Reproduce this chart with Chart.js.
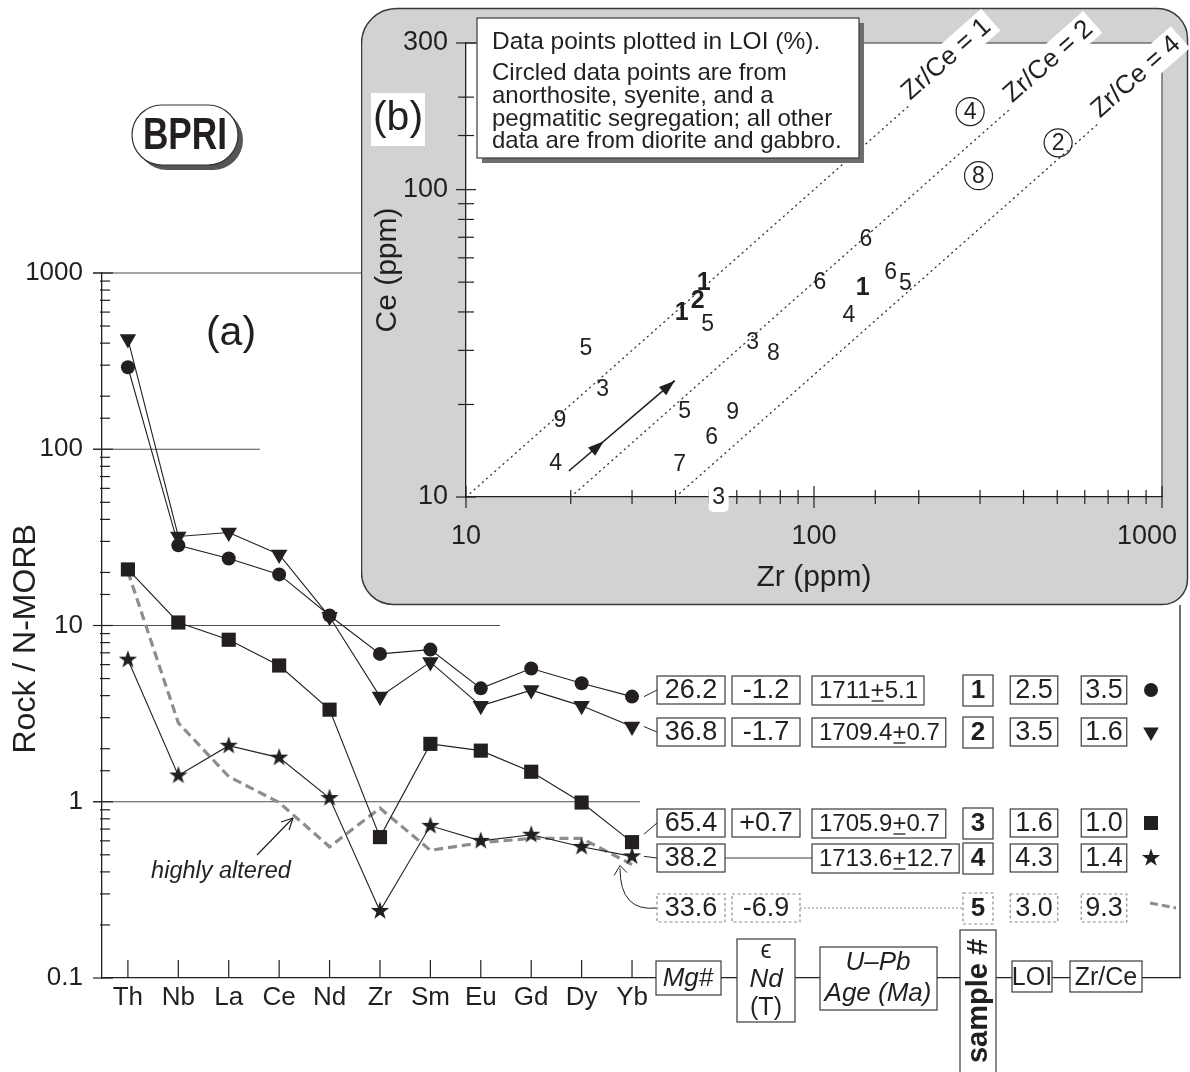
<!DOCTYPE html>
<html>
<head>
<meta charset="utf-8">
<script src="https://cdn.jsdelivr.net/npm/chart.js@4.4.1/dist/chart.umd.min.js"></script>
<style>
  html, body { margin: 0; padding: 0; background: #fff; }
  #wrap { position: relative; width: 1190px; height: 1072px; overflow: hidden; }
  #mainChart { position: absolute; left: 0; top: 0; }
  #insetChart { position: absolute; left: 361px; top: 0; }
</style>
</head>
<body>
<div id="wrap">
  <canvas id="mainChart" width="1190" height="1072" style="width:1190px;height:1072px"></canvas>
  <canvas id="insetChart" width="829" height="610" style="width:829px;height:610px"></canvas>
</div>
<script>
// ---- (a) N-MORB normalised spider diagram ----
const elements = ['Th', 'Nb', 'La', 'Ce', 'Nd', 'Zr', 'Sm', 'Eu', 'Gd', 'Dy', 'Yb'];
const sample1 = [292, 28.5, 24, 19.5, 11.4, 6.9, 7.3, 4.4, 5.7, 4.7, 3.95];
const sample2 = [422, 32, 33.7, 25.3, 11.2, 3.95, 6.2, 3.5, 4.3, 3.5, 2.67];
const sample3 = [20.8, 10.4, 8.3, 5.93, 3.33, 0.63, 2.13, 1.95, 1.48, 0.99, 0.59];
const sample4 = [6.4, 1.41, 2.08, 1.78, 1.05, 0.24, 0.73, 0.60, 0.65, 0.555, 0.49];
const sample5 = [20.2, 2.8, 1.39, 0.99, 0.555, 0.92, 0.53, 0.585, 0.62, 0.62, 0.44];

// table beside the spider diagram
const sampleIds = [1, 2, 3, 4, 5];
const mgNumber = [26.2, 36.8, 65.4, 38.2, 33.6];
const epsNd = [-1.2, -1.7, 0.7, null, -6.9];
const ageMa = ['1711', '1709.4', '1705.9', '1713.6', null];
const ageErr = ['5.1', '0.7', '0.7', '12.7', null];
const loi = [2.5, 3.5, 1.6, 4.3, 3.0];
const zrCe = [3.5, 1.6, 1.0, 1.4, 9.3];

// ---- (b) Ce vs Zr inset, points labelled by LOI (%) ----
const insetLoi = [5, 3, 9, 4, 1, 2, 1, 5, 3, 8, 5, 9, 6, 7, 3, 6, 6, 1, 6, 5, 4, 4, 8, 2];
const insetZr = [22.1, 24.7, 18.6, 18.1, 41.7, 46.3, 48.2, 49.5, 66.6, 76.5, 42.5, 58.4, 50.8, 41.1, 53.2, 104, 141, 138, 166, 183, 126, 281, 297, 503];
const insetCe = [30.6, 22.6, 17.9, 12.9, 40.1, 43.8, 50.2, 36.6, 32.0, 29.4, 19.1, 18.9, 15.7, 12.8, 10, 50.2, 69.2, 48.3, 54.1, 49.8, 39.2, 179.5, 111, 142];
const insetGroup = ['dg', 'dg', 'dg', 'dg', 'dated', 'dated', 'dated', 'dg', 'dg', 'dg', 'dg', 'dg', 'dg', 'dg', 'dg', 'dg', 'dg', 'dated', 'dg', 'dg', 'dg', 'felsic', 'felsic', 'felsic'];
const zrCeRatios = [1, 2, 4];
const arrowZr = [19.75, 39.8];
const arrowCe = [12.15, 23.9];

const FONT = "'Liberation Sans', Arial, Helvetica, sans-serif";
const INK = '#231f20';
const GREY = '#8d8d8d';
Chart.defaults.font.family = FONT;
Chart.defaults.color = INK;

function line(ctx, x1, y1, x2, y2) {
  ctx.beginPath(); ctx.moveTo(x1, y1); ctx.lineTo(x2, y2); ctx.stroke();
}
function drawStar(g, cx, cy, ro, ri) {
  g.beginPath();
  for (let i = 0; i < 10; i++) {
    const r = i % 2 ? ri : ro;
    const a = -Math.PI / 2 + i * Math.PI / 5;
    g.lineTo(cx + r * Math.cos(a), cy + r * Math.sin(a));
  }
  g.closePath(); g.fill();
}
function starCanvas(size) {
  const c = document.createElement('canvas');
  c.width = c.height = size;
  const g = c.getContext('2d');
  g.fillStyle = INK;
  drawStar(g, size / 2, size / 2, size * 0.48, size * 0.19);
  return c;
}
function drawMarker(ctx, kind, x, y) {
  ctx.save();
  ctx.fillStyle = INK;
  if (kind === 'circle') { ctx.beginPath(); ctx.arc(x, y, 7, 0, Math.PI * 2); ctx.fill(); }
  if (kind === 'tri') { ctx.beginPath(); ctx.moveTo(x, y + 9); ctx.lineTo(x - 7.8, y - 4.5); ctx.lineTo(x + 7.8, y - 4.5); ctx.closePath(); ctx.fill(); }
  if (kind === 'square') ctx.fillRect(x - 7, y - 7, 14, 14);
  if (kind === 'star') drawStar(ctx, x, y, 9.6, 3.8);
  if (kind === 'dash') {
    ctx.strokeStyle = GREY; ctx.lineWidth = 3; ctx.setLineDash([8, 4]);
    line(ctx, x - 1, y - 5, x + 25, y);
  }
  ctx.restore();
}
function box(ctx, x1, y1, x2, y2, color, dash) {
  ctx.save();
  ctx.fillStyle = '#fff';
  ctx.fillRect(x1, y1, x2 - x1, y2 - y1);
  ctx.strokeStyle = color || '#3a3a3a';
  ctx.lineWidth = 1.2;
  if (dash) ctx.setLineDash(dash);
  ctx.strokeRect(x1, y1, x2 - x1, y2 - y1);
  ctx.restore();
}
function textAt(ctx, text, x, y, font, align) {
  ctx.font = font;
  ctx.fillStyle = INK;
  ctx.textAlign = align || 'center';
  ctx.textBaseline = 'middle';
  ctx.fillText(text, x, y);
}
function isDecade(v) {
  const l = Math.log10(v);
  return Math.abs(l - Math.round(l)) < 1e-6;
}
function signed(v) { return (v > 0 ? '+' : '') + v.toFixed(1); }

// ---- main chart decorations ----
const ROW_Y = [690, 732, 823, 858, 908];
const GRID_RIGHT = [[1000, 361], [100, 260], [10, 500], [1, 640]];
const ROW_MARKERS = ['circle', 'tri', 'square', 'star', 'dash'];

const spiderDecor = {
  id: 'spiderDecor',
  beforeDatasetsDraw(chart) {
    const { ctx, chartArea: a, scales: { x, y } } = chart;
    ctx.save();
    ctx.strokeStyle = '#4d4d4f';
    ctx.lineWidth = 1.2;
    GRID_RIGHT.forEach(([v, xr]) => { const py = y.getPixelForValue(v); line(ctx, 93, py, xr, py); });
    ctx.strokeStyle = INK;
    y.ticks.forEach(t => {
      const py = y.getPixelForValue(t.value);
      if (isDecade(t.value)) line(ctx, 93, py, 113, py); else line(ctx, 100, py, 110, py);
    });
    elements.forEach((_, i) => { const px = x.getPixelForValue(i); line(ctx, px, a.bottom, px, a.bottom - 18); });
    // frame line up to the inset
    ctx.lineWidth = 1.3;
    line(ctx, a.right, a.bottom, a.right, 605);
    ctx.restore();
  },
  afterDraw(chart) {
    const { ctx, scales: { x, y } } = chart;
    ctx.save();
    textAt(ctx, '(a)', 231, 334, '41px ' + FONT);

    // BPRI badge
    ctx.fillStyle = '#555';
    ctx.beginPath(); ctx.roundRect(137, 110, 106, 60, 30); ctx.fill();
    ctx.fillStyle = '#fff'; ctx.strokeStyle = '#333'; ctx.lineWidth = 1.2;
    ctx.beginPath(); ctx.roundRect(132, 105, 106, 60, 30); ctx.fill(); ctx.stroke();
    ctx.save();
    ctx.translate(185, 137); ctx.scale(0.8, 1);
    textAt(ctx, 'BPRI', 0, 0, 'bold 44px ' + FONT);
    ctx.restore();

    // highly altered note
    textAt(ctx, 'highly altered', 221, 871, 'italic 23.5px ' + FONT);
    ctx.strokeStyle = INK; ctx.lineWidth = 1.2;
    line(ctx, 257, 855, 293, 818);
    line(ctx, 293, 818, 281, 822); line(ctx, 293, 818, 289, 830);

    // connectors from the Yb points to the table rows
    const ybX = x.getPixelForValue(elements.length - 1);
    [sample1, sample2, sample3, sample4].forEach((s, r) => {
      const py = y.getPixelForValue(s[s.length - 1]);
      const dy = r === 2 ? -8 : 0;
      ctx.strokeStyle = INK; ctx.lineWidth = 1;
      line(ctx, ybX + 12, py + dy, 657, ROW_Y[r]);
    });
    const p5 = y.getPixelForValue(sample5[sample5.length - 1]);
    const tip = { x: ybX - 12, y: p5 + 1 };
    ctx.beginPath(); ctx.moveTo(657, ROW_Y[4]);
    ctx.quadraticCurveTo(tip.x, ROW_Y[4] + 4, tip.x, tip.y + 3); ctx.stroke();
    line(ctx, tip.x, tip.y, tip.x - 6, tip.y + 10); line(ctx, tip.x, tip.y, tip.x + 7, tip.y + 7);

    // table rows
    ROW_Y.forEach((cy, r) => {
      const dashed = r === 4;
      const bc = dashed ? GREY : '#3a3a3a';
      const dash = dashed ? [3, 2.5] : null;
      const f = '27px ' + FONT;
      box(ctx, 657, cy - 14, 725, cy + 14, bc, dash);
      textAt(ctx, mgNumber[r].toFixed(1), 691, cy + 1, f);
      if (epsNd[r] !== null) {
        box(ctx, 732, cy - 14, 800, cy + 14, bc, dash);
        textAt(ctx, signed(epsNd[r]), 766, cy + 1, f);
      }
      if (ageMa[r] !== null) {
        const af = '24px ' + FONT;
        ctx.font = af;
        const w1 = ctx.measureText(ageMa[r]).width, wp = ctx.measureText('+').width, w2 = ctx.measureText(ageErr[r]).width;
        const x0 = 812, tx = x0 + 7;
        box(ctx, x0, cy - 14, tx + w1 + wp + w2 + 6, cy + 15, bc, dash);
        textAt(ctx, ageMa[r], tx, cy + 1, af, 'left');
        textAt(ctx, '+', tx + w1, cy + 1, af, 'left');
        textAt(ctx, ageErr[r], tx + w1 + wp, cy + 1, af, 'left');
        ctx.strokeStyle = INK; ctx.lineWidth = 1.3;
        line(ctx, tx + w1 + 1, cy + 11, tx + w1 + wp - 1, cy + 11);
      }
      if (r === 3) { ctx.strokeStyle = '#3a3a3a'; ctx.lineWidth = 1; line(ctx, 725, cy, 812, cy); }
      if (r === 4) {
        ctx.save(); ctx.strokeStyle = GREY; ctx.lineWidth = 1; ctx.setLineDash([2, 2]);
        line(ctx, 800, cy, 963, cy); ctx.restore();
      }
      box(ctx, 963, cy - 15, 993, cy + 16, bc, dash);
      textAt(ctx, String(sampleIds[r]), 978, cy + 1, 'bold 26px ' + FONT);
      ctx.font = f;
      const wl = ctx.measureText(loi[r].toFixed(1)).width;
      box(ctx, 1034 - wl / 2 - 5, cy - 14, 1034 + wl / 2 + 5, cy + 14, bc, dash);
      textAt(ctx, loi[r].toFixed(1), 1034, cy + 1, f);
      const wz = ctx.measureText(zrCe[r].toFixed(1)).width;
      box(ctx, 1104 - wz / 2 - 4, cy - 14, 1104 + wz / 2 + 4, cy + 14, bc, dash);
      textAt(ctx, zrCe[r].toFixed(1), 1104, cy + 1, f);
      drawMarker(ctx, ROW_MARKERS[r], 1151, cy);
    });

    // column headers on the axis line
    const hf = '25px ' + FONT, hi = 'italic 26px ' + FONT;
    box(ctx, 656, 961, 721, 995); textAt(ctx, 'Mg#', 688, 979, hi);
    box(ctx, 737, 939, 795, 1022);
    textAt(ctx, '\u03F5', 766, 951, '25px ' + FONT); textAt(ctx, 'Nd', 766, 980, hi); textAt(ctx, '(T)', 766, 1008, hf);
    box(ctx, 820, 947, 937, 1010);
    textAt(ctx, 'U\u2013Pb', 878, 963, hi); textAt(ctx, 'Age (Ma)', 878, 994, hi);
    box(ctx, 960, 930, 996, 1085);
    ctx.save(); ctx.translate(979, 1001); ctx.rotate(-Math.PI / 2);
    textAt(ctx, 'sample #', 0, 0, 'bold 29px ' + FONT); ctx.restore();
    box(ctx, 1012, 961, 1052, 992); textAt(ctx, 'LOI', 1032, 978, hf);
    box(ctx, 1070, 961, 1142, 992); textAt(ctx, 'Zr/Ce', 1106, 978, hf);
    ctx.restore();
  }
};

const starMarker = starCanvas(20);
const pointLooks = [
  { pointStyle: 'circle', pointRadius: 7, pointRotation: 0 },
  { pointStyle: 'triangle', pointRadius: 9.5, pointRotation: 180 },
  { pointStyle: 'rect', pointRadius: 10, pointRotation: 0 },
  { pointStyle: starMarker, pointRadius: 10, pointRotation: 0 }
];
const spiderSets = [sample1, sample2, sample3, sample4].map((vals, k) => Object.assign({
  label: 'Sample ' + sampleIds[k],
  data: vals.map((v, i) => ({ x: i, y: v })),
  borderColor: INK,
  backgroundColor: INK,
  pointBackgroundColor: INK,
  pointBorderWidth: 0,
  borderWidth: 1.1,
  tension: 0
}, pointLooks[k]));
spiderSets.push({
  label: 'Sample 5',
  data: sample5.map((v, i) => ({ x: i, y: v })),
  borderColor: GREY,
  borderWidth: 3.2,
  borderDash: [9, 5],
  pointRadius: 0,
  tension: 0
});

new Chart(document.getElementById('mainChart'), {
  type: 'line',
  data: { datasets: spiderSets },
  options: {
    responsive: false,
    animation: false,
    events: [],
    layout: { padding: { top: 273, right: 6, bottom: 0, left: 0 } },
    plugins: { legend: { display: false }, tooltip: { enabled: false } },
    scales: {
      x: {
        type: 'linear', min: -0.514, max: 20.87,
        afterBuildTicks(s) { s.ticks = elements.map((_, i) => ({ value: i })); },
        afterFit(s) { s.height = 94; s.paddingLeft = 0; s.paddingRight = 0; },
        grid: { display: false, drawTicks: false },
        border: { display: true, color: INK, width: 1.3 },
        ticks: { autoSkip: false, maxRotation: 0, padding: 4, font: { size: 26 }, color: INK,
          callback: v => elements[v] ?? '' }
      },
      y: {
        type: 'logarithmic', min: 0.1, max: 1000,
        afterFit(s) { s.width = 102; s.paddingTop = 0; s.paddingBottom = 0; },
        grid: { display: false, drawTicks: false },
        border: { display: true, color: INK, width: 1.3 },
        ticks: { autoSkip: false, padding: 19, font: { size: 26 }, color: INK,
          callback: v => isDecade(v) ? String(Math.pow(10, Math.round(Math.log10(v)))) : '' },
        title: { display: true, text: 'Rock / N-MORB   ', font: { size: 32 }, color: INK, padding: { top: 7, bottom: 7 } }
      }
    }
  },
  plugins: [spiderDecor]
});

// ---- inset chart ----
const INSET_X = 361;
const RATIO_LABEL_ZR = [251, 493, 880];
const NOTE_LINES = [
  ['Data points plotted in LOI (%).', 42, 24.5],
  ['Circled data points are from', 73, 24],
  ['anorthosite, syenite, and a', 96, 24],
  ['pegmatitic segregation; all other', 119, 24],
  ['data are from diorite and gabbro.', 141, 24]
];

function arrowHead(ctx, x, y, ang, len, half) {
  ctx.beginPath();
  ctx.moveTo(x, y);
  ctx.lineTo(x - len * Math.cos(ang) + half * Math.sin(ang), y - len * Math.sin(ang) - half * Math.cos(ang));
  ctx.lineTo(x - len * Math.cos(ang) - half * Math.sin(ang), y - len * Math.sin(ang) + half * Math.cos(ang));
  ctx.closePath(); ctx.fill();
}

const insetDecor = {
  id: 'insetDecor',
  beforeDraw(chart) {
    const { ctx, chartArea: a } = chart;
    ctx.save();
    ctx.translate(-INSET_X, 0);
    ctx.fillStyle = '#d1d2d4';
    ctx.strokeStyle = '#3a3a3a';
    ctx.lineWidth = 1.5;
    ctx.beginPath(); ctx.roundRect(361.5, 8.5, 826, 596, [35, 30, 25, 32]); ctx.fill(); ctx.stroke();
    ctx.restore();
    ctx.fillStyle = '#fff';
    ctx.fillRect(a.left, a.top, a.right - a.left, a.bottom - a.top);
    ctx.strokeStyle = '#6d6e70'; ctx.lineWidth = 1.5;
    ctx.beginPath(); ctx.moveTo(a.left, a.top); ctx.lineTo(a.right, a.top); ctx.lineTo(a.right, a.bottom); ctx.stroke();
  },
  afterDatasetsDraw(chart) {
    const { ctx, chartArea: a, scales: { x, y } } = chart;
    ctx.save();
    ctx.strokeStyle = INK; ctx.lineWidth = 1.2;
    x.ticks.forEach(t => {
      const px = x.getPixelForValue(t.value);
      const h = isDecade(t.value) ? 11 : 7;
      line(ctx, px, a.bottom - h, px, a.bottom + h);
    });
    y.ticks.forEach(t => {
      const py = y.getPixelForValue(t.value);
      const h = isDecade(t.value) || t.value === 300 ? 10 : 8;
      line(ctx, a.left - h, py, a.left + h, py);
    });

    // LOI labels at the data points
    const meta = chart.getDatasetMeta(0);
    meta.data.forEach((pt, i) => {
      const g = insetGroup[i];
      const txt = String(insetLoi[i]);
      if (pt.y >= a.bottom - 2) {
        ctx.fillStyle = '#fff';
        ctx.beginPath(); ctx.roundRect(pt.x - 10, pt.y - 15, 20, 30, 5); ctx.fill();
      }
      if (g === 'felsic') {
        ctx.strokeStyle = INK; ctx.lineWidth = 1.2;
        ctx.beginPath(); ctx.arc(pt.x, pt.y, 14, 0, Math.PI * 2); ctx.stroke();
      }
      textAt(ctx, txt, pt.x, pt.y + 1, (g === 'dated' ? 'bold 25px ' : '23px ') + FONT);
    });

    // arrow heads
    const am = chart.getDatasetMeta(chart.data.datasets.length - 1).data;
    const p0 = am[0], p1 = am[1];
    const ang = Math.atan2(p1.y - p0.y, p1.x - p0.x);
    ctx.fillStyle = INK;
    arrowHead(ctx, p1.x, p1.y, ang, 16, 5.5);
    arrowHead(ctx, p0.x + (p1.x - p0.x) * 0.33, p0.y + (p1.y - p0.y) * 0.33, ang, 16, 5.5);

    // ratio labels along the reference lines
    zrCeRatios.forEach((r, k) => {
      const z = RATIO_LABEL_ZR[k];
      const cx = x.getPixelForValue(z), cy = y.getPixelForValue(z / r);
      const sx = x.getPixelForValue(10 * r), sy = y.getPixelForValue(10);
      const th = Math.atan2(cy - sy, cx - sx);
      ctx.save();
      ctx.translate(cx + 10 * Math.sin(th), cy - 10 * Math.cos(th));
      ctx.rotate(th);
      const lab = 'Zr/Ce = ' + r;
      ctx.font = '26px ' + FONT;
      const w = ctx.measureText(lab).width;
      ctx.fillStyle = '#fff';
      ctx.fillRect(-w / 2 - 5, -15, w + 10, 29);
      textAt(ctx, lab, 0, 0, '26px ' + FONT);
      ctx.restore();
    });

    // fixed panel items, page coordinates
    ctx.translate(-INSET_X, 0);
    ctx.fillStyle = '#6d6e70';
    ctx.fillRect(482, 23, 382, 140);
    box(ctx, 477, 18, 859, 158, '#3a3a3a');
    NOTE_LINES.forEach(([t, ty, fs]) => textAt(ctx, t, 492, ty, fs + 'px ' + FONT, 'left'));
    ctx.fillStyle = '#fff';
    ctx.fillRect(371, 93, 54, 53);
    textAt(ctx, '(b)', 398, 119, '41px ' + FONT);
    ctx.restore();
  }
};

const insetSets = [{
  label: 'LOI (%)',
  data: insetZr.map((z, i) => ({ x: z, y: insetCe[i] })),
  pointRadius: 0,
  showLine: false
}];
zrCeRatios.forEach((r, k) => {
  insetSets.push({
    label: 'Zr/Ce = ' + r,
    data: [{ x: 10 * r, y: 10 }, { x: RATIO_LABEL_ZR[k], y: RATIO_LABEL_ZR[k] / r }],
    showLine: true,
    borderColor: '#333',
    borderWidth: 1.3,
    borderDash: [1, 4.5],
    borderCapStyle: 'round',
    pointRadius: 0
  });
});
insetSets.push({
  label: 'trend',
  data: arrowZr.map((z, i) => ({ x: z, y: arrowCe[i] })),
  showLine: true,
  borderColor: INK,
  borderWidth: 1.6,
  pointRadius: 0
});

new Chart(document.getElementById('insetChart'), {
  type: 'scatter',
  data: { datasets: insetSets },
  options: {
    responsive: false,
    animation: false,
    events: [],
    layout: { padding: { top: 43, right: 28, bottom: 0, left: 0 } },
    plugins: { legend: { display: false }, tooltip: { enabled: false } },
    scales: {
      x: {
        type: 'logarithmic', min: 10, max: 1000,
        afterFit(s) { s.height = 113; s.paddingLeft = 0; s.paddingRight = 0; },
        grid: { display: false, drawTicks: false },
        border: { display: true, color: INK, width: 1.3 },
        ticks: { autoSkip: false, maxRotation: 0, padding: 23, font: { size: 27 }, color: INK,
          callback: v => isDecade(v) ? (Math.round(v) === 1000 ? '1000    ' : String(Math.round(v))) : '' },
        title: { display: true, text: 'Zr (ppm)', font: { size: 30 }, color: INK, padding: { top: 14, bottom: 14 } }
      },
      y: {
        type: 'logarithmic', min: 10, max: 300,
        afterFit(s) { s.width = 105; s.paddingTop = 0; s.paddingBottom = 0; },
        grid: { display: false, drawTicks: false },
        border: { display: true, color: INK, width: 1.3 },
        ticks: { autoSkip: false, padding: 18, font: { size: 27 }, color: INK,
          callback: v => (isDecade(v) || Math.abs(v - 300) < 1e-6) ? String(Math.round(v)) : '' },
        title: { display: true, text: 'Ce (ppm)', font: { size: 30 }, color: INK, padding: { top: 9, bottom: 9 } }
      }
    }
  },
  plugins: [insetDecor]
});
</script>
</body>
</html>
